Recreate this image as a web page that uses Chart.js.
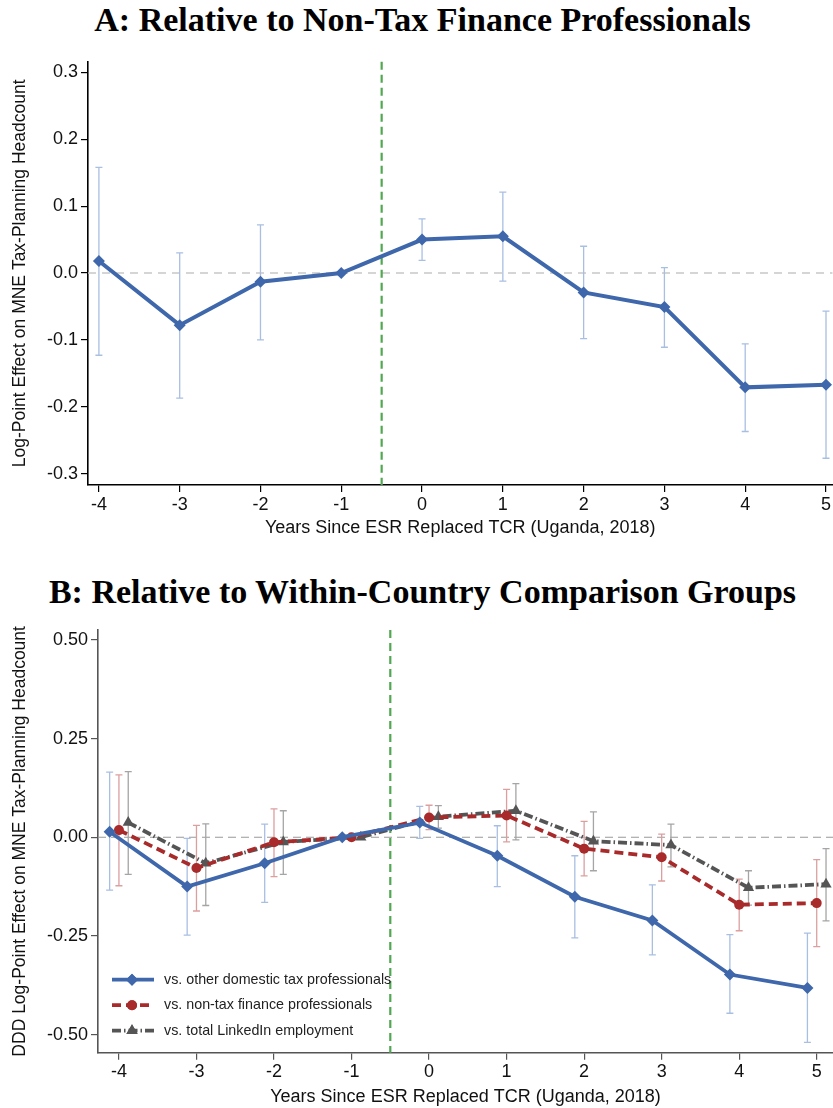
<!DOCTYPE html>
<html>
<head>
<meta charset="utf-8">
<script src="https://cdn.jsdelivr.net/npm/chart.js@4/dist/chart.umd.min.js"></script>
<style>
  body { margin: 0; background: #fff; width: 833px; height: 1108px; position: relative; overflow: hidden; }
  .title { position: absolute; left: 6px; width: 833px; text-align: center; line-height: 40px;
           font-family: "Liberation Serif", "Times New Roman", serif; font-weight: bold; font-size: 34px; color: #000; }
  canvas { position: absolute; left: 0; }
</style>
</head>
<body>
<div class="title" style="top:0px">A: Relative to Non-Tax Finance Professionals</div>
<canvas id="chartA" width="833" height="500" style="top:45px"></canvas>
<div class="title" style="top:572px">B: Relative to Within-Country Comparison Groups</div>
<canvas id="chartB" width="833" height="498" style="top:610px"></canvas>

<script>
// years relative to ESR replacing TCR
var years = [-4, -3, -2, -1, 0, 1, 2, 3, 4, 5];

// vs. non-tax finance professionals (panel A, red series in panel B)
var estNonTax = [0.018, -0.078, -0.013, 0, 0.050, 0.055, -0.029, -0.051, -0.171, -0.167];
var loNonTax  = [-0.123, -0.187, -0.100, null, 0.019, -0.012, -0.098, -0.111, -0.237, -0.277];
var hiNonTax  = [0.158, 0.030, 0.072, null, 0.081, 0.121, 0.040, 0.008, -0.106, -0.057];

// vs. other domestic tax professionals
var estDomestic = [0.014, -0.125, -0.066, 0, 0.037, -0.047, -0.151, -0.211, -0.348, -0.382];
var loDomestic  = [-0.134, -0.248, -0.165, null, -0.003, -0.125, -0.255, -0.298, -0.446, -0.520];
var hiDomestic  = [0.165, -0.003, 0.033, null, 0.078, 0.029, -0.047, -0.121, -0.247, -0.243];

// vs. total LinkedIn employment
var estTotal = [0.037, -0.066, -0.012, 0, 0.052, 0.067, -0.010, -0.020, -0.128, -0.119];
var loTotal  = [-0.094, -0.173, -0.094, null, 0.023, -0.007, -0.085, -0.075, -0.172, -0.212];
var hiTotal  = [0.166, 0.034, 0.067, null, 0.080, 0.136, 0.064, 0.033, -0.085, -0.029];

var yTicksA = [-0.3, -0.2, -0.1, 0, 0.1, 0.2, 0.3];
var yTicksB = [-0.5, -0.25, 0, 0.25, 0.5];
var xTicks = years;

var treatLine = -0.5;   // ESR replaces TCR
var font = '"Liberation Sans", Arial, sans-serif';

function pts(est, shift) {
  return years.map(function(yr, i) { return { x: yr + shift, y: est[i] }; });
}

// dashed zero line and green treatment line
var refLines = {
  id: 'refLines',
  beforeDatasetsDraw: function(chart, args, opts) {
    var ctx = chart.ctx, a = chart.chartArea;
    var y0 = chart.scales.y.getPixelForValue(0);
    var xv = chart.scales.x.getPixelForValue(treatLine);
    ctx.save();
    ctx.strokeStyle = opts.zeroColor;
    ctx.lineWidth = opts.zeroWidth;
    ctx.setLineDash(opts.zeroDash);
    ctx.beginPath(); ctx.moveTo(a.left, y0); ctx.lineTo(a.right, y0); ctx.stroke();
    ctx.strokeStyle = '#52a852';
    ctx.lineWidth = 2.2;
    ctx.setLineDash([8, 5]);
    ctx.beginPath(); ctx.moveTo(xv, a.top); ctx.lineTo(xv, a.bottom); ctx.stroke();
    ctx.restore();
  }
};

var errorBars = {
  id: 'errorBars',
  beforeDatasetsDraw: function(chart) {
    var ctx = chart.ctx, xs = chart.scales.x, ys = chart.scales.y;
    chart.data.datasets.forEach(function(ds) {
      if (!ds.errLow) return;
      ctx.save();
      ctx.strokeStyle = ds.errColor;
      ctx.lineWidth = 1.3;
      ds.data.forEach(function(p, i) {
        var lo = ds.errLow[i], hi = ds.errHigh[i];
        if (lo == null) return;
        var px = xs.getPixelForValue(p.x);
        var yl = ys.getPixelForValue(lo), yh = ys.getPixelForValue(hi);
        ctx.beginPath();
        ctx.moveTo(px, yl); ctx.lineTo(px, yh);
        ctx.moveTo(px - 3.5, yl); ctx.lineTo(px + 3.5, yl);
        ctx.moveTo(px - 3.5, yh); ctx.lineTo(px + 3.5, yh);
        ctx.stroke();
      });
      ctx.restore();
    });
  }
};

// legend drawn inside the plot, lower left
var insideLegend = {
  id: 'insideLegend',
  afterDatasetsDraw: function(chart) {
    var ctx = chart.ctx, a = chart.chartArea;
    chart.data.datasets.forEach(function(ds, i) {
      var x0 = a.left + 14, y = a.bottom - 73 + i * 25.5;
      ctx.save();
      ctx.strokeStyle = ds.borderColor;
      ctx.lineWidth = ds.borderWidth;
      ctx.setLineDash(ds.borderDash || []);
      ctx.beginPath(); ctx.moveTo(x0, y); ctx.lineTo(x0 + 42, y); ctx.stroke();
      ctx.setLineDash([]);
      ctx.fillStyle = ds.borderColor;
      ctx.beginPath();
      Chart.helpers.drawPoint(ctx, { pointStyle: ds.pointStyle, radius: ds.pointRadius, borderWidth: 0, rotation: 0 }, x0 + 20, y);
      ctx.fill();
      ctx.fillStyle = '#222';
      ctx.font = '14.3px ' + font;
      ctx.textBaseline = 'middle';
      ctx.fillText(ds.label, x0 + 52, y);
      ctx.restore();
    });
  }
};

function axes(o) {
  return {
    x: {
      type: 'linear', min: o.xmin, max: o.xmax,
      afterBuildTicks: function(s) { s.ticks = xTicks.map(function(v) { return { value: v }; }); },
      afterFit: function(s) { s.height = o.xh; },
      ticks: { color: '#111', font: { size: 18, family: font }, padding: 2, maxRotation: 0 },
      grid: { drawOnChartArea: false, drawTicks: true, tickLength: 7, color: o.axisColor, lineWidth: 1.2 },
      border: { color: o.axisColor, width: 1.6 },
      title: { display: true, text: 'Years Since ESR Replaced TCR (Uganda, 2018)', color: '#111',
               font: { size: 18, family: font }, padding: { top: 0, bottom: o.xtpad } }
    },
    y: {
      min: o.ymin, max: o.ymax,
      afterBuildTicks: function(s) { s.ticks = o.yticks.map(function(v) { return { value: v }; }); },
      afterFit: function(s) { s.width = o.yw; },
      ticks: { color: '#111', font: { size: 18, family: font }, padding: 3,
               callback: function(v) { return v.toFixed(o.dec); } },
      grid: { drawOnChartArea: false, drawTicks: true, tickLength: 7, color: o.axisColor, lineWidth: 1.2 },
      border: { color: o.axisColor, width: 1.6 },
      title: { display: true, text: o.ytitle, color: '#111',
               font: { size: 17.5, family: font }, padding: { top: 10, bottom: 0 } }
    }
  };
}

var blue = '#3f67ab', red = '#a82a2a', grey = '#555555';

new Chart(document.getElementById('chartA'), {
  type: 'line',
  data: {
    datasets: [{
      label: 'vs. non-tax finance professionals',
      data: pts(estNonTax, 0),
      errLow: loNonTax, errHigh: hiNonTax, errColor: '#a9bfe2',
      borderColor: blue, backgroundColor: blue, borderWidth: 4,
      pointStyle: 'rectRot', pointRadius: 6, pointBackgroundColor: blue, pointBorderWidth: 0,
      tension: 0
    }]
  },
  options: {
    responsive: false, animation: false,
    layout: { autoPadding: false, padding: { top: 16.7, right: 0, left: 0, bottom: 0 } },
    scales: axes({ xmin: -4.135, xmax: 5.08, xh: 60, xtpad: 6, ymin: -0.317, ymax: 0.316,
                   yticks: yTicksA, dec: 1, yw: 88, axisColor: '#000',
                   ytitle: 'Log-Point Effect on MNE Tax-Planning Headcount' }),
    plugins: {
      legend: { display: false }, tooltip: { enabled: false },
      refLines: { zeroColor: '#c8c8c8', zeroWidth: 1.6, zeroDash: [8, 6] }
    }
  },
  plugins: [refLines, errorBars]
});

new Chart(document.getElementById('chartB'), {
  type: 'line',
  data: {
    datasets: [{
      label: 'vs. other domestic tax professionals',
      data: pts(estDomestic, -0.12),
      errLow: loDomestic, errHigh: hiDomestic, errColor: '#a9bfe2',
      borderColor: blue, backgroundColor: blue, borderWidth: 3.8,
      pointStyle: 'rectRot', pointRadius: 6, pointBackgroundColor: blue, pointBorderWidth: 0
    }, {
      label: 'vs. non-tax finance professionals',
      data: pts(estNonTax, 0),
      errLow: loNonTax, errHigh: hiNonTax, errColor: '#dc9f9f',
      borderColor: red, backgroundColor: red, borderWidth: 3.8, borderDash: [9, 5],
      pointStyle: 'circle', pointRadius: 5, pointBackgroundColor: red, pointBorderWidth: 0
    }, {
      label: 'vs. total LinkedIn employment',
      data: pts(estTotal, 0.12),
      errLow: loTotal, errHigh: hiTotal, errColor: '#a5a5a5',
      borderColor: grey, backgroundColor: grey, borderWidth: 3.8, borderDash: [9, 3, 1.5, 3],
      pointStyle: 'triangle', pointRadius: 6.5, pointBackgroundColor: grey, pointBorderWidth: 0
    }]
  },
  options: {
    responsive: false, animation: false,
    layout: { autoPadding: false, padding: { top: 20, right: 0, left: 0, bottom: 0 } },
    scales: axes({ xmin: -4.27, xmax: 5.21, xh: 55.3, xtpad: 0.5, ymin: -0.546, ymax: 0.525,
                   yticks: yTicksB, dec: 2, yw: 98, axisColor: '#555',
                   ytitle: 'DDD Log-Point Effect on MNE Tax-Planning Headcount' }),
    plugins: {
      legend: { display: false }, tooltip: { enabled: false },
      refLines: { zeroColor: '#999999', zeroWidth: 1.1, zeroDash: [8, 5] }
    }
  },
  plugins: [refLines, errorBars, insideLegend]
});
</script>
</body>
</html>
